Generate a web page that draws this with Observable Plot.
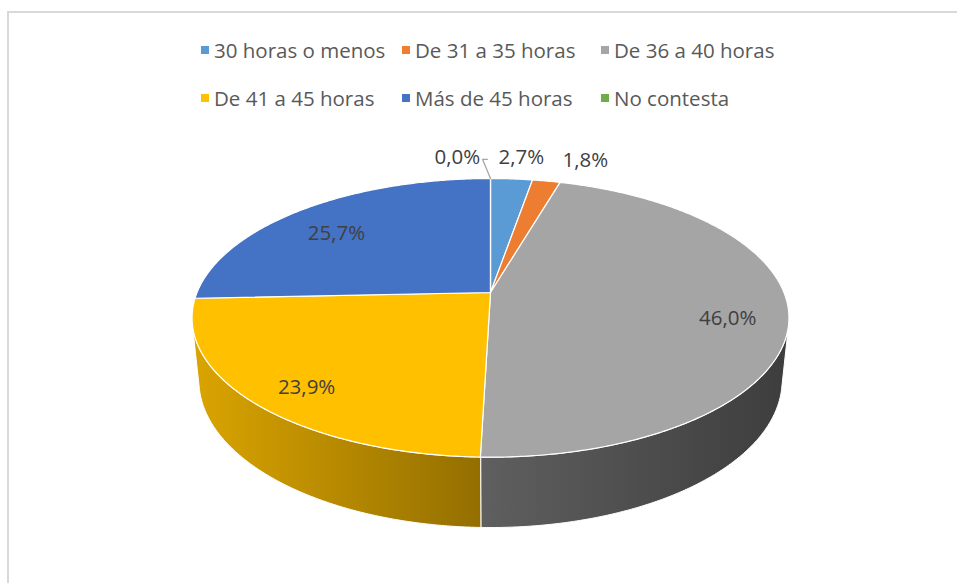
<!DOCTYPE html>
<html><head><meta charset="utf-8">
<script src="https://cdn.jsdelivr.net/npm/d3@7"></script>
<script src="https://cdn.jsdelivr.net/npm/@observablehq/plot@0.6"></script>
<style>
html,body{margin:0;padding:0;background:#fff;overflow:hidden;}
#wrap{position:relative;width:957px;height:583px;font-family:"Open Sans",sans-serif;overflow:hidden;}
#chart{position:absolute;left:0;top:0;}
#legend{position:absolute;left:201px;top:26px;display:grid;grid-template-columns:201px 199px 200px;grid-auto-rows:48px;font-size:20.5px;color:#595959;}
.item{display:flex;align-items:center;white-space:nowrap;}
.sw{width:8px;height:8px;margin-right:5px;flex:none;}
#frame{position:absolute;left:7px;top:11px;width:2000px;height:2000px;border-top:2px solid #d9d9d9;border-left:2px solid #d9d9d9;pointer-events:none;}
</style></head><body>
<div id="wrap"><div id="chart"></div><div id="legend"></div><div id="frame"></div></div>
<script>
// ---- data ----
const categories = ["30 horas o menos", "De 31 a 35 horas", "De 36 a 40 horas", "De 41 a 45 horas", "Más de 45 horas", "No contesta"];
const values = [2.7, 1.8, 46.0, 23.9, 25.7, 0.0];
const colors = ["#5b9bd5", "#ed7d31", "#a5a5a5", "#ffc000", "#4472c4", "#70ad47"];
const labelTexts = values.map(v => v.toFixed(1).replace(".", ",") + "%");

// ---- layout / projection constants ----
const W = 957, H = 583, CX = 490, CY = 292;
const F = 1433, D = 4.883, S = 0.459, C = Math.sqrt(1 - S * S), DEPTH = 0.2412;
function project(r, t, z) {
  const X = r * Math.sin(t), Y = r * Math.cos(t);
  const u = Y * S + z * C, w = D + Y * C - z * S;
  return {x: F * X / w, y: -F * u / w};
}
const tMin = Math.acos(-1 / (D * C)), tMax = 2 * Math.PI - tMin;

const total = d3.sum(values);
let acc = 0;
const slices = values.map((v, i) => {
  const a0 = acc / total * 2 * Math.PI; acc += v;
  const a1 = acc / total * 2 * Math.PI;
  return {i, v, a0, a1, mid: (a0 + a1) / 2, color: colors[i], cat: categories[i], label: labelTexts[i]};
});

function arc(a0, a1, r, z) {
  const n = Math.max(1, Math.ceil((a1 - a0) / (Math.PI / 360)));
  return d3.range(n + 1).map(k => project(r, a0 + (a1 - a0) * k / n, z));
}

// top faces
const topFaces = slices.map(s => [{x: 0, y: 0}, ...arc(s.a0, s.a1, 1, 0)]);
// visible outer walls
const walls = slices.map(s => {
  const lo = Math.max(s.a0, tMin), hi = Math.min(s.a1, tMax);
  if (hi <= lo) return null;
  return [...arc(lo, hi, 1, 0), ...arc(lo, hi, 1, -DEPTH).reverse()];
});

// labels
const inside = [], outside = [];
slices.forEach(s => {
  if (s.v / total >= 0.1) {
    const p = project(0.8, s.mid, 0);
    inside.push({x: p.x, y: p.y, text: s.label});
  } else {
    const p = project(1.25, s.mid, 0);
    const a = project(1, s.mid, 0);
    outside.push({x: p.x, x0: p.x, y: p.y, ax: a.x, ay: a.y, text: s.label});
  }
});
outside.sort((a, b) => a.x - b.x);
const GAP = 64;
for (let it = 0; it < 300; it++) {
  for (let k = 1; k < outside.length; k++) {
    const d = outside[k].x - outside[k - 1].x;
    if (d < GAP) { const sh = (GAP - d) / 2; outside[k - 1].x -= sh; outside[k].x += sh; }
  }
}
const leaders = [];
outside.forEach((o, k) => {
  const dx = o.x - o.x0;
  if (Math.abs(dx) > 29) {
    const sgn = dx < 0 ? 1 : -1;
    const ly = o.y + 4;
    leaders.push({id: k, x: o.x + sgn * 30, y: ly});
    leaders.push({id: k, x: o.ax - sgn * 8, y: ly});
    leaders.push({id: k, x: o.ax, y: o.ay});
  }
});

const marks = [];
walls.forEach((w, i) => {
  if (w) marks.push(Plot.line(w, {x: "x", y: "y", curve: "linear-closed", fill: `url(#wall${i})`, stroke: "white", strokeWidth: 1}));
});
topFaces.forEach((t, i) => {
  marks.push(Plot.line(t, {x: "x", y: "y", curve: "linear-closed", fill: colors[i], stroke: "white", strokeWidth: 1.2}));
});
marks.push(Plot.line(leaders, {x: "x", y: "y", z: "id", stroke: "#a6a6a6", strokeWidth: 1.3}));
marks.push(Plot.text(inside, {x: "x", y: "y", text: "text", fill: "#404040", fontSize: 20.5, dy: 9}));
marks.push(Plot.text(outside, {x: "x", y: "y", text: "text", fill: "#404040", fontSize: 20.5, dy: 2}));

const plot = Plot.plot({
  width: W, height: H, margin: 0,
  x: {domain: [-CX, W - CX], range: [0, W], axis: null},
  y: {domain: [-CY, H - CY], range: [0, H], axis: null},
  style: {background: "transparent", fontFamily: "Open Sans, sans-serif", overflow: "visible"},
  marks
});

// gradients for wall shading
const ns = "http://www.w3.org/2000/svg";
const defs = document.createElementNS(ns, "defs");
const shade = [[0, 0.86], [0.5, 0.57], [1, 0.37]];
slices.forEach(s => {
  const g = document.createElementNS(ns, "linearGradient");
  g.setAttribute("id", "wall" + s.i);
  g.setAttribute("gradientUnits", "userSpaceOnUse");
  g.setAttribute("x1", CX - 300); g.setAttribute("x2", CX + 300);
  g.setAttribute("y1", 0); g.setAttribute("y2", 0);
  const base = d3.rgb(s.color);
  shade.forEach(([o, k]) => {
    const st = document.createElementNS(ns, "stop");
    st.setAttribute("offset", o);
    st.setAttribute("stop-color", d3.rgb(base.r * k, base.g * k, base.b * k).formatHex());
    g.appendChild(st);
  });
  defs.appendChild(g);
});
plot.insertBefore(defs, plot.firstChild);
document.getElementById("chart").appendChild(plot);

// legend
const legend = d3.select("#legend");
categories.forEach((c, i) => {
  const it = legend.append("div").attr("class", "item");
  it.append("span").attr("class", "sw").style("background", colors[i]);
  it.append("span").text(c);
});
</script>
</body></html>
